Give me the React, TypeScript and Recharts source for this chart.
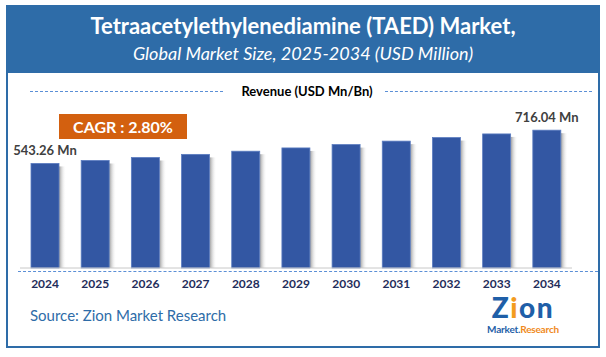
import { BarChart, Bar, XAxis, YAxis, LabelList } from 'recharts';

// values (USD Mn)
const years = ['2024', '2025', '2026', '2027', '2028', '2029', '2030', '2031', '2032', '2033', '2034'];
const revenue = [543.26, 558.5, 574.1, 590.2, 606.7, 623.7, 641.2, 659.1, 677.6, 696.5, 716.04];
const valueLabels = ['543.26 Mn', '', '', '', '', '', '', '', '', '', '716.04 Mn'];

const data = years.map((year, i) => ({ year, revenue: revenue[i], label: valueLabels[i] }));

const BLUE = '#2e6ca8';
const FONT = 'Lato, "Open Sans", sans-serif';

function ShadowBar(props: any) {
  const { x, y, width, height } = props;
  return (
    <g>
      <rect x={x + width} y={y + 3} width={7} height={Math.max(0, height - 3)} fill="url(#barShadow)" />
      <rect x={x} y={y} width={width} height={height} fill="#3357a3" stroke="#5b7cc0" strokeWidth={0.8} />
    </g>
  );
}

function ValueLabel(props: any) {
  const { x, y, width, value } = props;
  if (!value) return null;
  return (
    <text x={x + width / 2} y={y - 8} textAnchor="middle" fontFamily={FONT} fontWeight={700} fontSize={13} fill="#404040">
      {value}
    </text>
  );
}

export default function App() {
  return (
    <div style={{ position: 'absolute', left: 0, top: 0, width: 606, height: 357, background: '#fff', fontFamily: FONT, overflow: 'hidden' }}>
      {/* frame + title band */}
      <div style={{ position: 'absolute', left: 6, top: 5, width: 594, height: 343, border: `2px solid ${BLUE}`, boxSizing: 'border-box' }} />
      <div style={{ position: 'absolute', left: 6, top: 5, width: 594, height: 68, background: BLUE }} />
      <div style={{ position: 'absolute', left: 6, top: 14, width: 594, textAlign: 'center', color: '#fff', fontWeight: 700, fontSize: 22, lineHeight: '24px' }}>
        Tetraacetylethylenediamine (TAED) Market,
      </div>
      <div style={{ position: 'absolute', left: 6, top: 43, width: 594, textAlign: 'center', color: '#fff', fontStyle: 'italic', fontSize: 18, lineHeight: '20px' }}>
        Global Market Size, 2025-2034 (USD Million)
      </div>

      {/* legend */}
      <div style={{ position: 'absolute', left: 30, top: 91, width: 193, borderTop: '1px dashed #5b8fd6' }} />
      <div style={{ position: 'absolute', left: 10, top: 83, width: 594, textAlign: 'center', color: '#000', fontWeight: 700, fontSize: 13, lineHeight: '16px' }}>
        Revenue (USD Mn/Bn)
      </div>
      <div style={{ position: 'absolute', left: 385, top: 91, width: 207, borderTop: '1px dashed #5b8fd6' }} />

      {/* CAGR box */}
      <div style={{ position: 'absolute', left: 59, top: 114, width: 128, height: 25, background: '#d3600f', color: '#fff', fontWeight: 700, fontSize: 16, lineHeight: '25px', textAlign: 'center' }}>
        CAGR : 2.80%
      </div>

      <div style={{ position: 'absolute', left: 0, top: 0 }}>
        <BarChart width={606} height={357} data={data} margin={{ top: 114, right: 34, bottom: 59, left: 20 }} barSize={28}>
          <defs>
            <linearGradient id="barShadow" x1="0" y1="0" x2="1" y2="0">
              <stop offset="0%" stopColor="#7a7a7a" stopOpacity={0.75} />
              <stop offset="100%" stopColor="#ffffff" stopOpacity={0} />
            </linearGradient>
          </defs>
          <YAxis hide domain={[0, 800]} />
          <XAxis
            dataKey="year"
            axisLine={{ stroke: '#c8c8c8' }}
            tickLine={false}
            tickMargin={5}
            interval={0}
            tick={{ fill: '#1f2d5a', fontSize: 12, fontWeight: 700, fontFamily: FONT }}
          />
          <Bar dataKey="revenue" shape={<ShadowBar />} isAnimationActive={false}>
            <LabelList dataKey="label" content={<ValueLabel />} />
          </Bar>
        </BarChart>
      </div>

      {/* dashed line under axis */}
      <div style={{ position: 'absolute', left: 18, top: 271, width: 580, borderTop: '1px dashed #5b8fd6' }} />

      {/* source */}
      <div style={{ position: 'absolute', left: 30, top: 305, color: BLUE, fontSize: 15, lineHeight: '20px' }}>
        Source: Zion Market Research
      </div>

      {/* logo */}
      <div style={{ position: 'absolute', left: 482, top: 296, width: 82, textAlign: 'center' }}>
        <div style={{ fontSize: 28, lineHeight: '22px', height: 22, fontWeight: 900, color: '#1f5fa8', letterSpacing: 1.5 }}>
          <span>Z</span>
          <span style={{ color: '#f39c1f' }}>i</span>
          <span>on</span>
        </div>
        <div style={{ fontSize: 10, lineHeight: '12px', fontWeight: 700, marginTop: 5, letterSpacing: -0.2 }}>
          <span style={{ color: '#1f5fa8' }}>Market.</span>
          <span style={{ color: '#f08a1c' }}>Research</span>
        </div>
      </div>
    </div>
  );
}
